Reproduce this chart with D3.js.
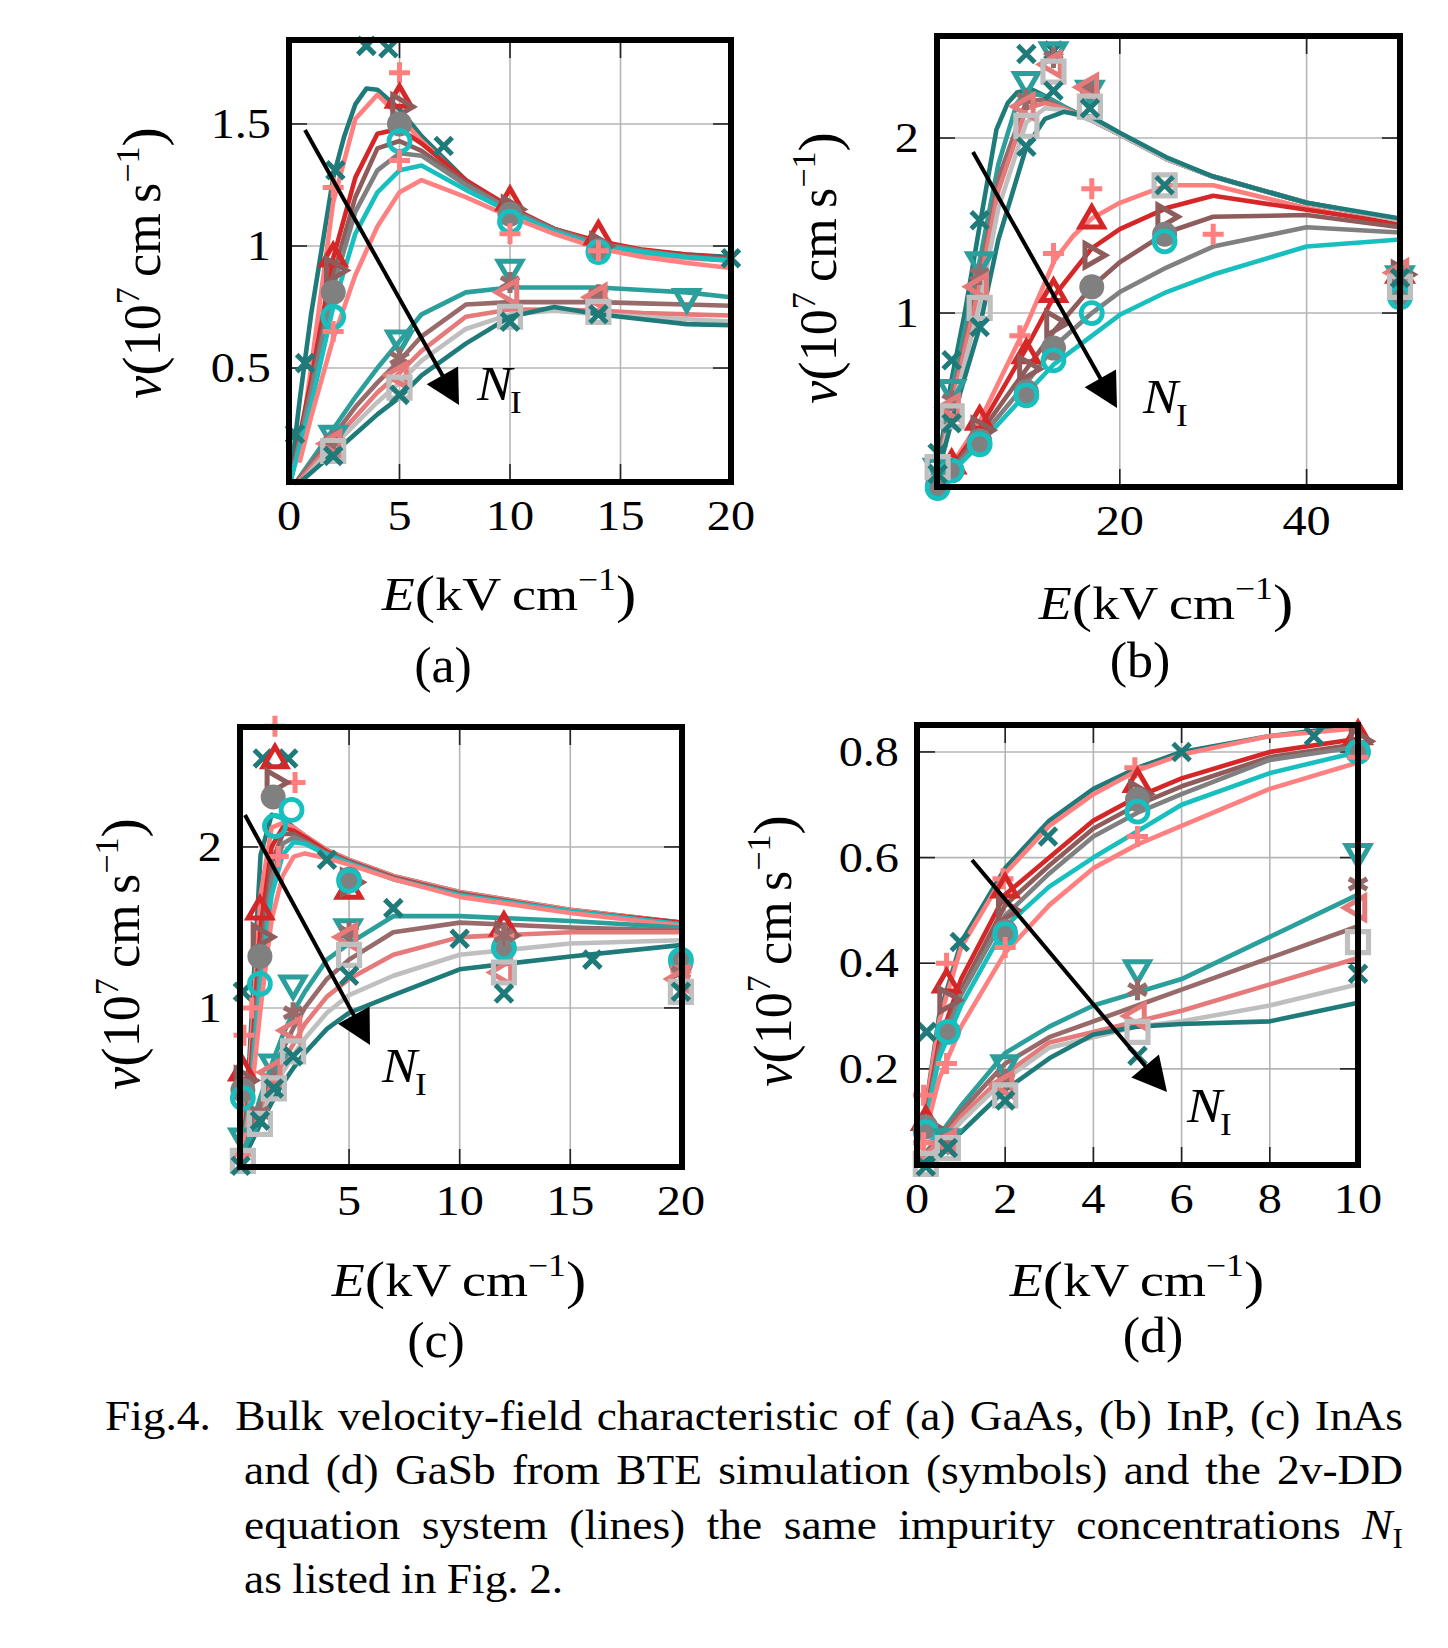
<!DOCTYPE html>
<html><head><meta charset="utf-8">
<script src="https://cdn.jsdelivr.net/npm/d3@7"></script>
<style>body{margin:0;background:#fff} svg{display:block}</style>
</head><body>
<svg id="fig" width="1448" height="1648"></svg>
<script>
// ---------- series styles (12 series, index 0..11) ----------
const seriesColors = ["#1f7b79","#ff7f7f","#d62728","#8f5c5c","#808080","#17bfbf",
                      "#ff8080","#2a9f9b","#986a6a","#e67a7a","#bfbfbf","#1f7b79"];
const seriesMarkers = ["x","plus","triUp","triRight","circleFill","circleOpen",
                       "plus","triDown","asterisk","triLeft","square","x"];

// ---------- (a) GaAs ----------
const gaasLines = [
 [[0.05,0.04],[0.5,0.38],[1,0.72],[2,1.28],[2.5,1.45],[3,1.58],[3.5,1.645],[4,1.64],[5,1.56],[6,1.45],[8,1.27],[10,1.15],[12,1.07],[14,1.01],[16,0.98],[18,0.965],[20,0.955]],
 [[0.5,0.18],[1,0.5],[2,1.18],[3,1.52],[4,1.62],[5,1.53],[6,1.43],[8,1.26],[10,1.14],[12,1.06],[14,1.0],[16,0.97],[18,0.95],[20,0.94]],
 [[0.05,0.03],[1,0.45],[2,0.95],[3,1.28],[4,1.46],[5,1.48],[6,1.42],[8,1.27],[10,1.16],[12,1.07],[14,1.02],[16,0.985],[18,0.965],[20,0.95]],
 [[0.05,0.03],[1,0.42],[2,0.88],[3,1.2],[4,1.4],[5,1.43],[6,1.39],[8,1.26],[10,1.15],[12,1.07],[14,1.01],[16,0.98],[18,0.96],[20,0.945]],
 [[0.05,0.03],[1,0.4],[2,0.83],[3,1.14],[4,1.31],[5,1.38],[6,1.37],[8,1.25],[10,1.15],[12,1.065],[14,1.01],[16,0.98],[18,0.955],[20,0.94]],
 [[0.05,0.03],[1,0.35],[2,0.75],[3,1.05],[4,1.22],[5,1.31],[6,1.33],[8,1.23],[10,1.14],[12,1.06],[14,1.0],[16,0.975],[18,0.955],[20,0.94]],
 [[0.5,0.12],[1,0.3],[2,0.62],[3,0.88],[4,1.08],[5,1.22],[6,1.27],[8,1.2],[10,1.12],[12,1.05],[14,0.99],[16,0.955],[18,0.93],[20,0.91]],
 [[0.3,0.03],[2,0.25],[3,0.38],[4,0.5],[5,0.61],[6,0.72],[8,0.81],[10,0.83],[12,0.83],[14,0.83],[16,0.82],[18,0.81],[20,0.79]],
 [[0.3,0.03],[2,0.22],[3,0.34],[4,0.44],[5,0.53],[6,0.63],[8,0.76],[10,0.77],[12,0.77],[14,0.77],[16,0.765],[18,0.76],[20,0.755]],
 [[0.4,0.03],[2,0.2],[3,0.3],[4,0.4],[5,0.48],[6,0.57],[8,0.71],[10,0.74],[12,0.74],[14,0.735],[16,0.725],[18,0.72],[20,0.715]],
 [[0.5,0.03],[2,0.18],[3,0.27],[4,0.36],[5,0.44],[6,0.53],[8,0.66],[10,0.72],[12,0.735],[14,0.72],[16,0.71],[18,0.7],[20,0.69]],
 [[0.6,0.04],[2,0.15],[3,0.23],[4,0.31],[5,0.38],[6,0.47],[8,0.6],[10,0.71],[12,0.75],[14,0.72],[16,0.7],[18,0.68],[20,0.675]]
];
const gaasMarks = [
 [[0.27,0.23],[0.73,0.52],[2.1,1.31],[3.5,1.82],[4.5,1.81],[7,1.41],[20,0.95]],
 [[2,1.24],[5,1.71]],
 [[2,0.95],[5,1.6],[10,1.18],[14,1.04]],
 [[2,0.9],[5,1.57],[10,1.15],[14,1.0]],
 [[2,0.81],[5,1.5],[10,1.13],[14,0.98]],
 [[2,0.71],[5,1.43],[10,1.1],[14,0.975]],
 [[2,0.65],[5,1.35],[10,1.05],[14,0.98]],
 [[2,0.23],[5,0.62],[10,0.91],[18,0.79]],
 [[2,0.2],[5,0.54],[10,0.85],[14,0.8]],
 [[2,0.19],[5,0.47],[10,0.81],[14,0.79]],
 [[2,0.16],[5,0.42],[10,0.71],[14,0.73]],
 [[2,0.14],[5,0.39],[10,0.69],[14,0.72]]
];
const gaasXTicks = [0,5,10,15,20];
const gaasYTicks = [0.5,1,1.5];
const gaasYTickLabels = ["0.5","1","1.5"];

// ---------- (b) InP ----------
const inpLines = [
 [[0.5,0.12],[2,0.62],[3.4,1.0],[5,1.5],[6.8,2.05],[8,2.2],[9,2.26],[10.5,2.28],[12,2.24],[14,2.18],[17,2.1],[20,2.02],[25,1.88],[30,1.78],[40,1.63],[50,1.53]],
 [[0.5,0.02],[2,0.13],[5,0.38],[10,0.93],[13,1.3],[15,1.44],[17,1.54],[20,1.63],[25,1.73],[30,1.73],[40,1.6],[50,1.5]],
 [[0.5,0.02],[2,0.12],[5,0.34],[10,0.8],[13,1.1],[17,1.37],[20,1.48],[25,1.6],[30,1.67],[40,1.59],[50,1.51]],
 [[0.5,0.02],[2,0.11],[5,0.31],[10,0.68],[13,0.9],[17,1.15],[20,1.29],[25,1.46],[30,1.55],[40,1.56],[50,1.49]],
 [[0.5,0.02],[2,0.1],[5,0.28],[10,0.6],[13,0.81],[17,1.0],[20,1.12],[25,1.26],[30,1.38],[40,1.49],[50,1.46]],
 [[0.5,0.02],[2,0.09],[5,0.25],[10,0.54],[13,0.71],[17,0.87],[20,0.99],[25,1.12],[30,1.22],[40,1.38],[50,1.42]],
 null,
 [[0.5,0.1],[2,0.55],[5,1.3],[7,1.85],[9,2.2],[10,2.26],[12,2.24],[14,2.18],[17,2.1],[20,2.02],[25,1.88],[30,1.78],[40,1.63],[50,1.53]],
 [[0.5,0.1],[2,0.5],[5,1.22],[7,1.77],[10,2.21],[12,2.22],[14,2.17],[17,2.1],[20,2.02],[25,1.88],[30,1.78],[40,1.63],[50,1.53]],
 [[0.5,0.1],[2,0.47],[5,1.16],[7,1.7],[10,2.17],[12,2.2],[14,2.17],[17,2.1],[20,2.02],[25,1.88],[30,1.78],[40,1.63],[50,1.53]],
 [[0.5,0.09],[2,0.42],[5,1.05],[7,1.6],[10,2.09],[12,2.17],[14,2.16],[17,2.1],[20,2.02],[25,1.88],[30,1.78],[40,1.63],[50,1.53]],
 [[0.5,0.08],[2,0.38],[5,0.92],[7,1.42],[10,1.95],[12,2.11],[14,2.15],[17,2.12],[20,2.03],[25,1.89],[30,1.78],[40,1.63],[50,1.54]]
];
const inpMarks = [
 [[0.5,0.2],[2,0.73],[5,1.53],[10,2.48],[12.9,2.5],[16.8,2.27],[50,1.22]],
 [[9.3,0.87],[12.9,1.34],[17,1.71],[30,1.45]],
 [[2,0.13],[5,0.38],[10,0.76],[12.9,1.11],[17,1.53],[50,1.22]],
 [[5,0.33],[10,0.68],[12.9,0.94],[17,1.33],[24.8,1.55],[50,1.22]],
 [[0.5,0.02],[2,0.1],[5,0.27],[10,0.55],[12.9,0.8],[17,1.15],[24.8,1.45],[50,1.1]],
 [[0.5,0.0],[2,0.1],[5,0.25],[10,0.53],[12.9,0.73],[17,1.0],[24.8,1.41],[50,1.09]],
 null,
 [[0.5,0.12],[2,0.57],[5,1.3],[10,2.33],[12.9,2.5],[16.8,2.28],[50,1.22]],
 [[2,0.5],[5,1.22],[10,2.22],[12.9,2.46],[16.8,2.28],[50,1.22]],
 [[2,0.46],[5,1.15],[10,2.18],[12.9,2.42],[16.8,2.29],[50,1.23]],
 [[0.5,0.12],[2,0.41],[5,1.03],[10,2.07],[12.9,2.38],[16.8,2.18],[24.8,1.73],[50,1.15]],
 [[0.5,0.08],[2,0.37],[5,0.92],[10,1.95],[12.9,2.27],[16.8,2.17],[24.8,1.73],[50,1.2]]
];
const inpXTicks = [20,40];
const inpYTicks = [1,2];
const inpYTickLabels = ["1","2"];

// ---------- (c) InAs ----------
const inasLines = [
 [[0.1,0.05],[0.5,0.7],[1,1.95],[1.5,2.2],[2,2.18],[2.5,2.12],[3,2.07],[4,1.98],[5,1.92],[7,1.82],[10,1.72],[15,1.61],[20,1.53]],
 [[0.1,0.05],[0.5,0.6],[1,1.7],[1.5,2.12],[2,2.15],[2.5,2.12],[3,2.07],[4,1.98],[5,1.92],[7,1.82],[10,1.72],[15,1.61],[20,1.53]],
 [[0.1,0.05],[0.5,0.5],[1,1.5],[1.5,2.0],[2,2.12],[2.5,2.1],[3,2.06],[4,1.97],[5,1.91],[7,1.81],[10,1.71],[15,1.6],[20,1.53]],
 [[0.1,0.05],[0.5,0.45],[1,1.35],[1.5,1.9],[2,2.08],[2.5,2.08],[3,2.04],[4,1.96],[5,1.91],[7,1.81],[10,1.71],[15,1.6],[20,1.52]],
 [[0.1,0.05],[0.5,0.42],[1,1.25],[1.5,1.8],[2,2.02],[2.5,2.06],[3,2.03],[4,1.96],[5,1.9],[7,1.8],[10,1.7],[15,1.6],[20,1.52]],
 [[0.1,0.05],[0.5,0.4],[1,1.15],[1.5,1.7],[2,1.95],[2.5,2.03],[3,2.02],[4,1.95],[5,1.9],[7,1.8],[10,1.7],[15,1.6],[20,1.52]],
 [[0.1,0.04],[0.5,0.35],[1,1.0],[1.5,1.55],[2,1.82],[2.5,1.94],[3,1.96],[4,1.93],[5,1.89],[7,1.8],[10,1.69],[15,1.59],[20,1.51]],
 [[0.1,0.03],[0.5,0.22],[1,0.45],[1.5,0.65],[2,0.83],[2.5,0.98],[3,1.1],[4,1.3],[5,1.4],[7,1.57],[10,1.57],[15,1.54],[20,1.5]],
 [[0.1,0.03],[0.5,0.2],[1,0.4],[1.5,0.58],[2,0.74],[2.5,0.88],[3,1.0],[4,1.18],[5,1.3],[7,1.47],[10,1.53],[15,1.5],[20,1.48]],
 [[0.1,0.03],[0.5,0.18],[1,0.36],[1.5,0.52],[2,0.66],[2.5,0.78],[3,0.9],[4,1.07],[5,1.18],[7,1.33],[10,1.44],[15,1.47],[20,1.47]],
 [[0.1,0.03],[0.5,0.16],[1,0.32],[1.5,0.47],[2,0.6],[2.5,0.71],[3,0.81],[4,0.97],[5,1.08],[7,1.2],[10,1.33],[15,1.4],[20,1.42]],
 [[0.1,0.02],[0.5,0.14],[1,0.28],[1.5,0.41],[2,0.53],[2.5,0.63],[3,0.72],[4,0.87],[5,0.97],[7,1.08],[10,1.24],[15,1.32],[20,1.39]]
];
const inasMarks = [
 [[0.2,1.1],[1.1,2.55],[2.25,2.55],[4,1.92],[7,1.62],[10,1.43],[16,1.3]],
 [[0.25,0.83],[1.65,2.75],[2.56,2.4],[4.96,1.76],[12,1.4],[20,1.23]],
 [[0.2,0.6],[0.97,1.6],[1.65,2.54],[5,1.73],[12,1.5]],
 [[0.2,0.55],[0.97,1.44],[1.6,2.4],[5,1.78],[12,1.45]],
 [[0.2,0.49],[0.97,1.32],[1.57,2.31],[5,1.8],[12,1.38],[20,1.28]],
 [[0.2,0.44],[0.97,1.15],[1.65,2.13],[2.4,2.23],[5,1.79],[12,1.37],[20,1.3]],
 [[0.25,0.09],[0.6,1.0],[1.8,1.94],[12,1.45],[20,1.25]],
 [[0.2,0.2],[1.57,0.66],[2.47,1.15],[4.96,1.5]],
 [[0.97,0.35],[1.57,0.55],[2.47,0.97],[5,1.47],[12,1.45],[20,1.22]],
 [[1.57,0.6],[2.47,0.86],[5,1.44],[12,1.22],[20,1.18]],
 [[0.2,0.05],[0.97,0.28],[1.6,0.5],[2.47,0.73],[5,1.33],[12,1.22],[20,1.1]],
 [[0.1,0.02],[0.97,0.3],[1.6,0.5],[2.47,0.7],[5,1.2],[12,1.09],[20,1.1]]
];
const inasXTicks = [5,10,15,20];
const inasYTicks = [1,2];
const inasYTickLabels = ["1","2"];

// ---------- (d) GaSb ----------
const gasbLines = [
 [[0.1,0.07],[0.5,0.3],[1,0.44],[2,0.58],[3,0.67],[4,0.73],[5,0.77],[6,0.8],[8,0.83],[10,0.85]],
 [[0.1,0.07],[0.5,0.29],[1,0.43],[2,0.57],[3,0.66],[4,0.72],[5,0.765],[6,0.795],[8,0.83],[10,0.845]],
 [[0.1,0.06],[0.5,0.25],[1,0.37],[2,0.53],[3,0.6],[4,0.67],[5,0.715],[6,0.75],[8,0.8],[10,0.825]],
 [[0.1,0.06],[0.5,0.24],[1,0.35],[2,0.51],[3,0.585],[4,0.655],[5,0.7],[6,0.735],[8,0.79],[10,0.815]],
 [[0.1,0.06],[0.5,0.23],[1,0.34],[2,0.49],[3,0.57],[4,0.64],[5,0.685],[6,0.72],[8,0.785],[10,0.81]],
 [[0.1,0.06],[0.5,0.22],[1,0.32],[2,0.47],[3,0.545],[4,0.6],[5,0.65],[6,0.7],[8,0.76],[10,0.8]],
 [[0.1,0.05],[0.5,0.18],[1,0.28],[2,0.42],[3,0.51],[4,0.58],[5,0.625],[6,0.66],[8,0.73],[10,0.78]],
 [[0.1,0.03],[0.6,0.085],[1,0.13],[2,0.23],[3,0.28],[4,0.32],[5,0.345],[6,0.37],[8,0.45],[10,0.53]],
 [[0.1,0.03],[0.6,0.08],[1,0.12],[2,0.21],[3,0.26],[4,0.29],[5,0.32],[6,0.35],[8,0.41],[10,0.47]],
 [[0.1,0.03],[0.6,0.07],[1,0.11],[2,0.19],[3,0.25],[4,0.27],[5,0.29],[6,0.31],[8,0.36],[10,0.41]],
 [[0.1,0.02],[0.6,0.06],[1,0.1],[2,0.18],[3,0.24],[4,0.26],[5,0.28],[6,0.29],[8,0.32],[10,0.36]],
 [[0.1,0.02],[0.6,0.05],[1,0.08],[2,0.16],[3,0.22],[4,0.265],[5,0.28],[6,0.285],[8,0.29],[10,0.325]]
];
const gasbMarks = [
 [[0.22,0.27],[0.97,0.44],[2.97,0.64],[6,0.8],[9,0.83]],
 [[0.15,0.15],[0.67,0.4],[1.95,0.56],[4.94,0.77]],
 [[0.2,0.1],[0.67,0.36],[2,0.54],[5,0.74],[10,0.83]],
 [[0.2,0.09],[0.67,0.33],[2,0.5],[5,0.72],[10,0.82]],
 [[0.2,0.09],[0.7,0.27],[2,0.46],[5,0.71],[10,0.8]],
 [[0.2,0.08],[0.7,0.27],[2,0.455],[5,0.687],[10,0.8]],
 [[0.15,0.06],[0.67,0.21],[2,0.43],[5,0.64],[10,0.79]],
 [[0.7,0.07],[2,0.21],[5,0.39],[10,0.61]],
 [[0.7,0.06],[2,0.18],[5,0.35],[10,0.55]],
 [[0.7,0.06],[2,0.17],[5,0.3],[10,0.505]],
 [[0.2,0.02],[0.7,0.05],[2,0.15],[5,0.27],[10,0.44]],
 [[0.2,0.015],[0.7,0.05],[2,0.14],[5,0.225],[10,0.38]]
];
const gasbXTicks = [0,2,4,6,8,10];
const gasbYTicks = [0.2,0.4,0.6,0.8];
const gasbYTickLabels = ["0.2","0.4","0.6","0.8"];

const captionLines = [
 "Fig.4.  Bulk velocity-field characteristic of (a) GaAs, (b) InP, (c) InAs",
 "and (d) GaSb from BTE simulation (symbols) and the 2v-DD",
 "equation system (lines) the same impurity concentrations N_I",
 "as listed in Fig. 2."
];

// ---------- layout ----------
const FONT = "'Liberation Serif','Times New Roman',serif";
const panels = [
 {lines:gaasLines, marks:gaasMarks, xd:[0,20], yd:[0.033,1.844], box:[289,40,731,482],
  xt:gaasXTicks, yt:gaasYTicks, ytl:gaasYTickLabels, tag:"(a)",
  xlab:[509,610], tagpos:[443,682], ylab:[160,263], arrow:[[305,130],[459,405]], ni:[477,400]},
 {lines:inpLines, marks:inpMarks, xd:[0.43,50], yd:[0.006,2.583], box:[937,36,1400,487],
  xt:inpXTicks, yt:inpYTicks, ytl:inpYTickLabels, tag:"(b)",
  xlab:[1166,619], tagpos:[1140,677], ylab:[836,268], arrow:[[973,152],[1117,408]], ni:[1143,413]},
 {lines:inasLines, marks:inasMarks, xd:[0.07,20.05], yd:[0.012,2.745], box:[240,727,682,1167],
  xt:inasXTicks, yt:inasYTicks, ytl:inasYTickLabels, tag:"(c)",
  xlab:[459,1296], tagpos:[436,1357], ylab:[139,954], arrow:[[245,815],[370,1045]], ni:[382,1082]},
 {lines:gasbLines, marks:gasbMarks, xd:[0,10], yd:[0.018,0.851], box:[917,725,1358,1165],
  xt:gasbXTicks, yt:gasbYTicks, ytl:gasbYTickLabels, tag:"(d)",
  xlab:[1137,1296], tagpos:[1153,1352], ylab:[791,951], arrow:[[972,860],[1167,1092]], ni:[1187,1122]}
];

const svg = d3.select("#fig").attr("font-family", FONT);

// text with horizontal stretch
function sText(parent, x, y, sx, size, anchor){
  const g=parent.append("g").attr("transform",`translate(${x},${y}) scale(${sx},1)`);
  return g.append("text").attr("x",0).attr("y",0).attr("font-size",size).attr("text-anchor",anchor||"start");
}

function markerPath(t){
  const tri = (rot)=>{
    const r=13.5, pts=[0,1,2].map(i=>{const a=(rot-90+i*120)*Math.PI/180;return [r*Math.cos(a),r*Math.sin(a)];});
    return "M"+pts.map(p=>p.join(",")).join("L")+"Z";
  };
  switch(t){
    case "x": {const a=8.5;return `M${-a},${-a}L${a},${a}M${-a},${a}L${a},${-a}`;}
    case "plus": {const a=10.5;return `M${-a},0H${a}M0,${-a}V${a}`;}
    case "asterisk": {let s="";[90,30,150].forEach(d=>{const a=d*Math.PI/180,r=10.5;s+=`M${-r*Math.cos(a)},${-r*Math.sin(a)}L${r*Math.cos(a)},${r*Math.sin(a)}`;});return s;}
    case "triUp": return tri(0);
    case "triDown": return tri(180);
    case "triRight": return tri(90);
    case "triLeft": return tri(270);
    case "square": return "M-10.5,-10.5H10.5V10.5H-10.5Z";
  }
  return "";
}

panels.forEach(p=>{
  const [x0,y0,x1,y1]=p.box;
  const x=d3.scaleLinear().domain(p.xd).range([x0,x1]);
  const y=d3.scaleLinear().domain(p.yd).range([y1,y0]);
  const g=svg.append("g");
  // grid
  p.xt.forEach(v=>{ if(x(v)>x0+2 && x(v)<x1-2) g.append("line").attr("x1",x(v)).attr("x2",x(v)).attr("y1",y0).attr("y2",y1).attr("stroke","#b5b5b5").attr("stroke-width",1.6);});
  p.yt.forEach(v=>{ g.append("line").attr("x1",x0).attr("x2",x1).attr("y1",y(v)).attr("y2",y(v)).attr("stroke","#b5b5b5").attr("stroke-width",1.6);});
  // inward ticks
  const TL=18;
  p.xt.forEach(v=>{ if(x(v)>x0+2 && x(v)<x1-2){
    g.append("line").attr("x1",x(v)).attr("x2",x(v)).attr("y1",y1).attr("y2",y1-TL).attr("stroke","#222").attr("stroke-width",1.6);
    g.append("line").attr("x1",x(v)).attr("x2",x(v)).attr("y1",y0).attr("y2",y0+TL).attr("stroke","#222").attr("stroke-width",1.6);}});
  p.yt.forEach(v=>{
    g.append("line").attr("x1",x0).attr("x2",x0+TL).attr("y1",y(v)).attr("y2",y(v)).attr("stroke","#222").attr("stroke-width",1.6);
    g.append("line").attr("x1",x1).attr("x2",x1-TL).attr("y1",y(v)).attr("y2",y(v)).attr("stroke","#222").attr("stroke-width",1.6);});
  // lines
  const lg=d3.line().x(d=>x(d[0])).y(d=>y(d[1]));
  p.lines.forEach((ln,i)=>{ if(!ln) return;
    g.append("path").attr("d",lg(ln)).attr("fill","none").attr("stroke",seriesColors[i])
     .attr("stroke-width",4.6).attr("stroke-linejoin","round").attr("stroke-linecap","round");});
  // markers
  p.marks.forEach((mk,i)=>{ if(!mk) return;
    const t=seriesMarkers[i], c=seriesColors[i];
    mk.forEach(d=>{
      const cx=x(d[0]), cy=y(d[1]);
      if(t==="circleFill") g.append("circle").attr("cx",cx).attr("cy",cy).attr("r",12.5).attr("fill",c);
      else if(t==="circleOpen") g.append("circle").attr("cx",cx).attr("cy",cy).attr("r",10.5).attr("fill","none").attr("stroke",c).attr("stroke-width",4.8);
      else g.append("path").attr("d",markerPath(t)).attr("transform",`translate(${cx},${cy})`)
             .attr("fill","none").attr("stroke",c).attr("stroke-width",t==="square"?5.2:5).attr("stroke-linejoin","miter");
    });
  });
  // frame
  g.append("rect").attr("x",x0).attr("y",y0).attr("width",x1-x0).attr("height",y1-y0)
   .attr("fill","none").attr("stroke","#000").attr("stroke-width",6);
  // tick labels
  p.xt.forEach(v=>{ sText(g, x(v), y1+48, 1.15, 42, "middle").text(v); });
  p.yt.forEach((v,k)=>{ sText(g, x0-18, y(v)+14, 1.15, 42, "end").text(p.ytl[k]); });
  // x label
  const xl=sText(g, p.xlab[0], p.xlab[1], 1.15, 47, "middle");
  xl.append("tspan").attr("font-style","italic").text("E");
  xl.append("tspan").attr("font-size",53).attr("dy",2).text("(");
  xl.append("tspan").attr("dy",-2).text("kV\u2009cm");
  xl.append("tspan").attr("font-size",31).attr("dy",-20).text("\u22121");
  xl.append("tspan").attr("font-size",53).attr("dy",22).text(")");
  // tag
  sText(g, p.tagpos[0], p.tagpos[1], 1.04, 50, "middle").text(p.tag);
  // y label
  const yl=g.append("text").attr("transform",`translate(${p.ylab[0]},${p.ylab[1]}) rotate(-90)`)
    .attr("text-anchor","middle").attr("font-size",52);
  yl.append("tspan").attr("font-style","italic").text("v");
  yl.append("tspan").attr("font-size",58).attr("dy",2).text("(");
  yl.append("tspan").attr("dy",-2).text("10");
  yl.append("tspan").attr("font-size",34).attr("dy",-21).text("7");
  yl.append("tspan").attr("dy",21).text("\u2009cm\u2009s");
  yl.append("tspan").attr("font-size",34).attr("dy",-21).text("\u22121");
  yl.append("tspan").attr("font-size",58).attr("dy",23).text(")");
  // arrow
  const [[ax0,ay0],[ax1,ay1]]=p.arrow;
  const dx=ax1-ax0, dy=ay1-ay0, L=Math.hypot(dx,dy), ux=dx/L, uy=dy/L;
  const HL=34, HW=18;
  const bx=ax1-ux*HL, by=ay1-uy*HL;
  g.append("line").attr("x1",ax0).attr("y1",ay0).attr("x2",bx+ux*4).attr("y2",by+uy*4).attr("stroke","#000").attr("stroke-width",4);
  g.append("path").attr("d",`M${ax1},${ay1}L${bx-uy*HW},${by+ux*HW}L${bx+uy*HW},${by-ux*HW}Z`).attr("fill","#000");
  // N_I
  const nt=sText(g, p.ni[0], p.ni[1], 1.1, 48, "start");
  nt.append("tspan").attr("font-style","italic").text("N");
  nt.append("tspan").attr("font-size",32).attr("dy",13).attr("dx",-2).text("I");
});

// ---------- caption (justified) ----------
const capG=svg.append("g");
const CAP_SX=1.08, CAP_FS=42;
function makeWord(w, yy){
  const t=sText(capG, 0, yy, CAP_SX, CAP_FS, "start");
  if(w==="N_I"){
    t.append("tspan").attr("font-style","italic").text("N");
    t.append("tspan").attr("font-size",29).attr("dy",9).text("I");
  } else t.text(w);
  return t;
}
function captionLine(str, xs, xe, yy, justify, extraFirst){
  const words=str.split(/\s+/);
  const nodes=words.map(w=>makeWord(w,yy));
  const widths=nodes.map(n=>n.node().getComputedTextLength()*CAP_SX);
  const sum=d3.sum(widths)+(extraFirst||0);
  let gap = justify ? (xe-xs-sum)/(words.length-1) : 10.5;
  let cx=xs;
  nodes.forEach((n,i)=>{ d3.select(n.node().parentNode).attr("transform",`translate(${cx},${yy}) scale(${CAP_SX},1)`); n.attr("y",0); cx+=widths[i]+gap+(i===0?(extraFirst||0):0); });
}
const capY0=1430, capDY=54.3;
captionLine(captionLines[0],105,1403,capY0,true,10);
captionLine(captionLines[1],244,1403,capY0+capDY,true);
captionLine(captionLines[2],244,1403,capY0+2*capDY,true);
captionLine(captionLines[3],244,1403,capY0+3*capDY,false);
</script>
</body></html>
